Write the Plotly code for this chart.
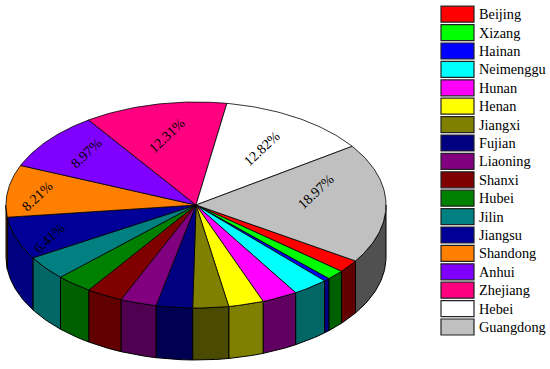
import math
import plotly.graph_objects as go

# Data, in legend order (clockwise around the pie from the Guangdong edge)
provinces = ["Beijing", "Xizang", "Hainan", "Neimenggu", "Hunan", "Henan", "Jiangxi", "Fujian",
             "Liaoning", "Shanxi", "Hubei", "Jilin", "Jiangsu", "Shandong", "Anhui", "Zhejiang",
             "Hebei", "Guangdong"]
shares = [2.0, 1.55, 0.5, 3.05, 3.05, 3.0, 3.05, 3.1, 3.1, 3.1, 3.1, 3.8, 6.7, 8.2, 9.2, 12.2, 12.8, 18.85]
printed_labels = {"Jiangsu": "6.41%", "Shandong": "8.21%", "Anhui": "8.97%", "Zhejiang": "12.31%",
                  "Hebei": "12.82%", "Guangdong": "18.97%"}
top_colors = ["#ff0000", "#00ff00", "#0000ff", "#00ffff", "#ff00ff", "#ffff00", "#808000", "#000080",
              "#800080", "#800000", "#008000", "#008080", "#000099", "#ff8000", "#8000ff", "#ff0080",
              "#ffffff", "#c0c0c0"]
side_colors = ["#600000", "#006000", "#000080", "#006666", "#600060", "#808000", "#4a4a00", "#000050",
               "#500050", "#600000", "#006000", "#006666", "#000080", "#804000", "#400080", "#800040",
               "#808080", "#505050"]

# Layout constants (pixels)
W, H = 550, 369
CX, CY, RX, RY, DEPTH = 196, 205, 190, 103, 52
START_DEG = -32.9
LABEL_XY = {"Jiangsu": (49, 238), "Shandong": (37, 196), "Anhui": (86, 153), "Zhejiang": (167, 135),
            "Hebei": (262, 148), "Guangdong": (316, 191)}
LABEL_ANGLE = -43
SW_X0, SW_X1, SW_H, LEG_Y0, LEG_DY, LEG_TX = 441, 474, 16, 14.2, 18.4, 476.5
FONT = "Liberation Serif"


def ell(deg, dy=0.0):
    t = math.radians(deg)
    return CX + RX * math.cos(t), CY - RY * math.sin(t) + dy


def arc(a0, a1):
    n = max(2, int(abs(a1 - a0)) + 2)
    return [a0 + (a1 - a0) * i / (n - 1) for i in range(n)]


total = sum(shares)
fig = go.Figure()
edges = [START_DEG]
for s in shares:
    edges.append(edges[-1] - 360.0 * s / total)


def add_side(a_hi, a_lo, col):
    pts = arc(a_hi, a_lo)
    top = [ell(a) for a in pts]
    bot = [ell(a, DEPTH) for a in reversed(pts)]
    poly = top + bot + top[:1]
    fig.add_trace(go.Scatter(x=[p[0] for p in poly], y=[p[1] for p in poly], mode="lines",
                             fill="toself", fillcolor=col, line=dict(color="#000000", width=1),
                             hoverinfo="skip", showlegend=False))


# side faces: only the front half (angles between 0 and -180) is visible
for a0, a1, col in zip(edges[:-1], edges[1:], side_colors):
    lo, hi = max(a1, -180.0), min(a0, 0.0)
    if hi > lo:
        add_side(hi, lo, col)
# the part of Guangdong between the right extreme and the start edge
add_side(0.0, START_DEG, side_colors[-1])

# top wedges
for name, a0, a1, col in zip(provinces, edges[:-1], edges[1:], top_colors):
    o = [ell(a) for a in arc(a0, a1)]
    poly = [(CX, CY)] + o + [(CX, CY)]
    fig.add_trace(go.Scatter(x=[p[0] for p in poly], y=[p[1] for p in poly], mode="lines",
                             fill="toself", fillcolor=col, line=dict(color="#000000", width=0.8),
                             name=name, hoverinfo="skip", showlegend=False))

annotations = []
for name, text in printed_labels.items():
    x, y = LABEL_XY[name]
    annotations.append(dict(x=x, y=y, xref="x", yref="y", text=text, showarrow=False, textangle=LABEL_ANGLE,
                            font=dict(family=FONT, size=14, color="#000000")))

shapes = []
for i, (name, col) in enumerate(zip(provinces, top_colors)):
    yc = LEG_Y0 + i * LEG_DY
    shapes.append(dict(type="rect", xref="x", yref="y", x0=SW_X0, x1=SW_X1, y0=yc - SW_H / 2, y1=yc + SW_H / 2,
                       fillcolor=col, line=dict(color="#222222", width=1.2)))
    annotations.append(dict(x=LEG_TX, y=yc, xref="x", yref="y", text=name, showarrow=False, xanchor="left",
                            font=dict(family=FONT, size=14.3, color="#000000")))

fig.update_layout(width=W, height=H, margin=dict(l=0, r=0, t=0, b=0), paper_bgcolor="#ffffff",
                  plot_bgcolor="#ffffff", showlegend=False, shapes=shapes, annotations=annotations,
                  xaxis=dict(range=[0, W], visible=False, fixedrange=True),
                  yaxis=dict(range=[H, 0], visible=False, fixedrange=True))
fig.write_html("out.html", config={"displayModeBar": False},
               post_script="document.body.style.margin='0';")
